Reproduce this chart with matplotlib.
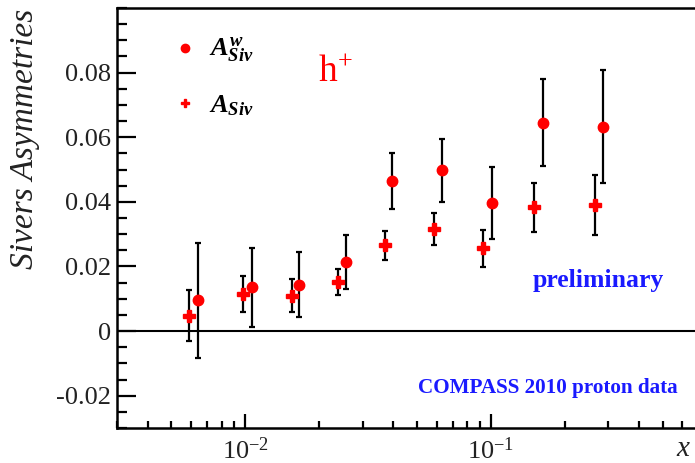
import numpy as np
import matplotlib
matplotlib.use('Agg')
import matplotlib.pyplot as plt
from matplotlib.lines import Line2D
from matplotlib.ticker import LogLocator, FuncFormatter, MultipleLocator, NullFormatter

plt.rcParams['font.family'] = 'Liberation Serif'
plt.rcParams['mathtext.fontset'] = 'custom'
plt.rcParams['mathtext.rm'] = 'Liberation Serif'
plt.rcParams['mathtext.it'] = 'Liberation Serif:italic:bold'
plt.rcParams['mathtext.bf'] = 'Liberation Serif:bold'

# ── Data: COMPASS 2010 proton, h+ Sivers asymmetries vs x ────────────
x_siv = [0.0059, 0.0098, 0.0155, 0.0239, 0.0371, 0.0583, 0.0930, 0.150, 0.265]
a_siv = [0.0048, 0.0115, 0.0110, 0.0151, 0.0265, 0.0316, 0.0256, 0.0383, 0.0390]
e_siv = [0.0078, 0.0055, 0.0051, 0.0040, 0.0046, 0.0049, 0.0058, 0.0075, 0.0093]

x_w = [0.0064, 0.0106, 0.0165, 0.0257, 0.0394, 0.0631, 0.1007, 0.162, 0.286]
a_w = [0.0095, 0.0136, 0.0144, 0.0213, 0.0465, 0.0498, 0.0396, 0.0645, 0.0633]
e_w = [0.0177, 0.0122, 0.0100, 0.0083, 0.0086, 0.0097, 0.0111, 0.0134, 0.0175]

yticks = [-0.02, 0, 0.02, 0.04, 0.06, 0.08]

# ── Figure ──────────────────────────────────────────────────────────
W, H = 695, 463
fig = plt.figure(figsize=(W / 100, H / 100), dpi=100)
ax = fig.add_axes([117 / W, 35 / H, 589 / W, 420 / H])

red = '#ff0000'
blue = '#1a1aff'
ax.axhline(0, color='black', lw=1.5, zorder=1)

ax.errorbar(x_siv, a_siv, yerr=e_siv, fmt='P', color=red, ms=8,
            ecolor='black', elinewidth=1.6, capsize=2.5, capthick=1.6,
            zorder=3)
ax.errorbar(x_w, a_w, yerr=e_w, fmt='o', color=red, ms=7.5,
            ecolor='black', elinewidth=1.6, capsize=2.5, capthick=1.6,
            zorder=3)

ax.set_xscale('log')
ax.set_xlim(0.003, 0.75)
ax.set_ylim(-0.03, 0.1)

ax.set_yticks(yticks)
ax.yaxis.set_minor_locator(MultipleLocator(0.005))
ax.yaxis.set_major_formatter(FuncFormatter(lambda v, p: f'{v:g}'))
ax.xaxis.set_major_locator(LogLocator(base=10))
ax.xaxis.set_minor_locator(LogLocator(base=10, subs=np.arange(2, 10)))
ax.xaxis.set_minor_formatter(NullFormatter())

ax.tick_params(axis='both', which='major', direction='in', width=1.6,
               labelsize=19, colors='black', labelcolor='#222222')
ax.tick_params(axis='y', which='major', length=14, pad=4)
ax.tick_params(axis='y', which='minor', direction='in', length=7, width=1.6)
ax.tick_params(axis='x', which='major', length=10, pad=7)
ax.tick_params(axis='x', which='minor', direction='in', length=5, width=1.6)

for s in ax.spines.values():
    s.set_linewidth(1.8)

# legend
handles = [Line2D([], [], ls='none', marker='o', color=red, ms=6),
           Line2D([], [], ls='none', marker='P', color=red, ms=6)]
ax.legend(handles, [r'$A^{w}_{Siv}$', r'$A_{Siv}$'], loc='upper left',
          bbox_to_anchor=(0.062, 0.99), frameon=False, fontsize=19,
          handlelength=0.6, handletextpad=0.6, labelspacing=1.05)

ax.text(0.37, 0.848, r'h$^{+}$', transform=ax.transAxes, color=red,
        fontsize=27, ha='center', va='center')
ax.text(0.8166, 0.35, 'preliminary', transform=ax.transAxes,
        color=blue, fontsize=18.5, fontweight='bold',
        ha='center', va='center')
ax.text(0.732, 0.095, 'COMPASS 2010 proton data', transform=ax.transAxes,
        color=blue, fontsize=15.2, fontweight='bold',
        ha='center', va='center')

fig.text(25 / W, 1 - 139 / H, 'Sivers Asymmetries', rotation=90,
         fontsize=24, style='italic', color='#222222',
         ha='center', va='center')
fig.text(676 / W, 1 / H, 'x', fontsize=21, style='italic',
         color='#222222', ha='left', va='bottom')

fig.savefig('out.png', dpi=100)
